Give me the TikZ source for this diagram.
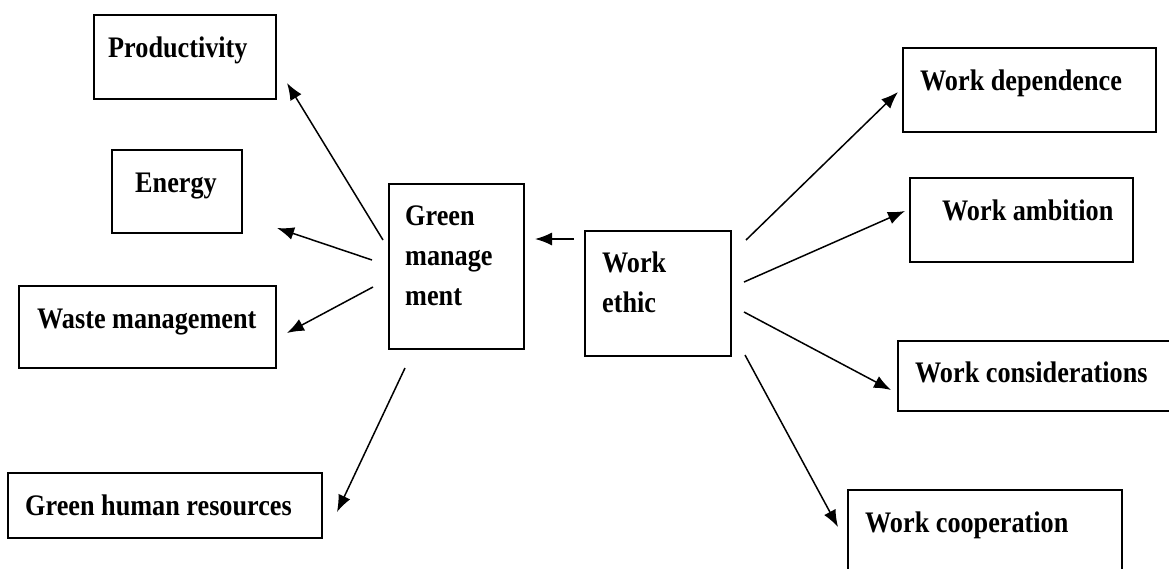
\documentclass[tikz,border=0pt]{standalone}
\usepackage{fontspec}
\setmainfont{Liberation Serif}[FakeStretch=0.88]
\usepackage{tikz}
\usetikzlibrary{arrows.meta,positioning,calc}

\tikzset{
  blk/.style={draw, line width=1.9pt, inner sep=0pt, outer sep=0pt, anchor=north west},
  lbl/.style={anchor=base west, inner sep=0pt, align=left,
    font=\bfseries\fontsize{29.8}{40}\selectfont},
  arr/.style={line width=1.5pt, -{Latex[length=17pt,width=13pt]}}
}

\begin{document}
\begin{tikzpicture}[x=1pt, y=-1pt]
    % page frame, two boxes run off the edge
    \path[use as bounding box] (0,0) rectangle (1169,568);
    \clip (0,0) rectangle (1169,568);

    % boxes on the left
    \node[blk, minimum width=182, minimum height=84] (prod) at (94,15) {};
    \node[blk, minimum width=130, minimum height=83] (energy) at (112,150) {};
    \node[blk, minimum width=257, minimum height=82] (waste) at (19,286) {};
    \node[blk, minimum width=314, minimum height=65] (ghr) at (8,473) {};

    % the two middle boxes
    \node[blk, minimum width=135, minimum height=165] (gm) at (389,184) {};
    \node[blk, minimum width=146, minimum height=125] (we) at (585,231) {};

    % boxes on the right
    \node[blk, minimum width=253, minimum height=84] (wd) at (903,48) {};
    \node[blk, minimum width=223, minimum height=84] (wa) at (910,178) {};
    \node[blk, minimum width=300, minimum height=70] (wcons) at (898,341) {};
    \node[blk, minimum width=274, minimum height=110] (wcoop) at (848,490) {};

    % Labels (multi-line ones sit on their last baseline)
    \node[lbl] (prodtxt) at (108,57) {Productivity};
    \node[lbl] (energytxt) at (135,192) {Energy};
    \node[lbl] (wastetxt) at (37,328) {Waste management};
    \node[lbl] (ghrtxt) at (25,515) {Green human resources};
    \node[lbl] (gmtxt) at (405,305) {Green\\manage\\ment};
    \node[lbl] (wetxt) at (602,312) {Work\\ethic};
    \node[lbl] (wdtxt) at (920,90) {Work dependence};
    \node[lbl] (watxt) at (942,220) {Work ambition};
    \node[lbl] (wconstxt) at (915,382) {Work considerations};
    \node[lbl] (wcooptxt) at (865,532) {Work cooperation};

    % Arrows out of green management
    \draw[arr] ([shift={(-6,56)}]gm.north west) -- ([shift={(11,-16)}]prod.south east);
    \draw[arr] ([shift={(-17,76)}]gm.north west) -- ([shift={(35,-5)}]energy.south east);
    \draw[arr] ([shift={(-16,103)}]gm.north west) -- ([shift={(11,47)}]waste.north east);
    \draw[arr] ([shift={(16,19)}]gm.south west) -- ([shift={(15,39)}]ghr.north east);

    % Arrows out of work ethic
    \draw[arr] ([shift={(-11,8)}]we.north west) -- ([shift={(11,55)}]gm.north east);
    \draw[arr] ([shift={(15,9)}]we.north east) -- ([shift={(-5,-40)}]wd.south west);
    \draw[arr] ([shift={(13,51)}]we.north east) -- ([shift={(-5,33)}]wa.north west);
    \draw[arr] ([shift={(13,81)}]we.north east) -- ([shift={(-7,49)}]wcons.north west);
    \draw[arr] ([shift={(14,-1)}]we.south east) -- ([shift={(-10,37)}]wcoop.north west);
\end{tikzpicture}
\end{document}
